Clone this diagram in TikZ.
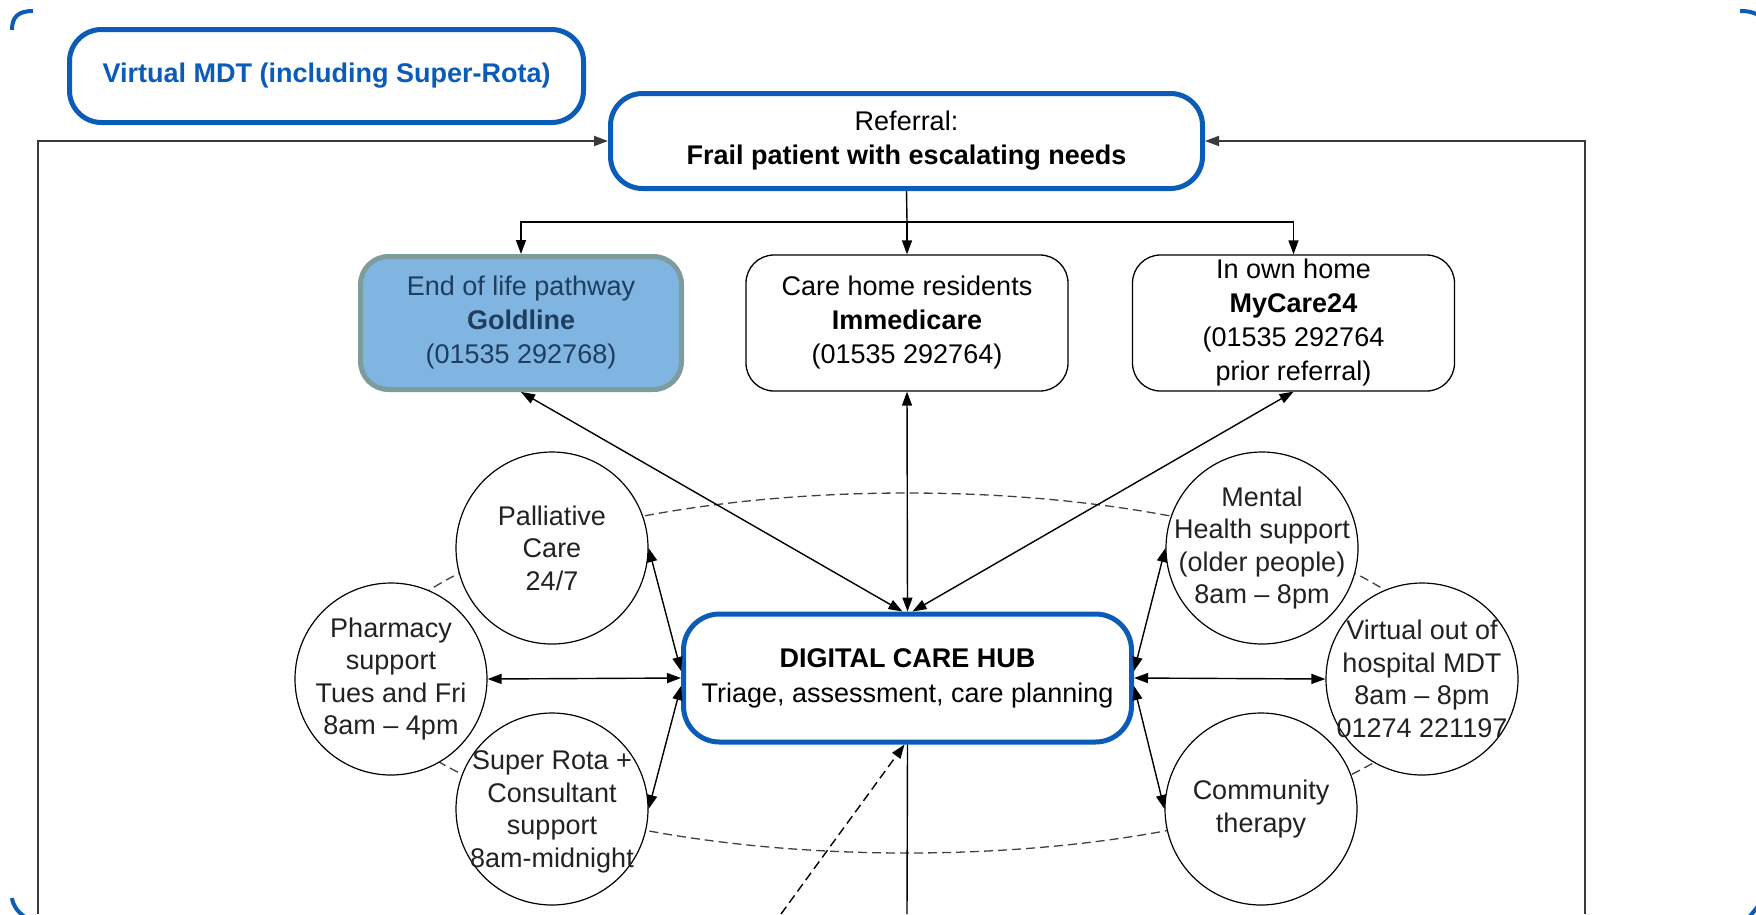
\documentclass[tikz,border=0pt]{standalone}
\usepackage{fontspec}
\setmainfont{Liberation Sans}
\usetikzlibrary{arrows.meta,calc}
\definecolor{hubblue}{HTML}{0B5CB8}
\definecolor{goldfill}{HTML}{7FB5E0}
\definecolor{goldedge}{HTML}{7E9C9C}
\definecolor{goldtext}{HTML}{1F3D5E}
\definecolor{linegray}{HTML}{3A3A3A}
\definecolor{txtdark}{HTML}{222222}
\begin{document}
\begin{tikzpicture}[x=1pt,y=-1pt,
  txt/.style={font=\fontsize{27}{34}\selectfont, align=center},
  bluebox/.style={draw=hubblue, line width=5pt, rounded corners=32pt, fill=white, txt, inner sep=0pt},
  whitebox/.style={draw=black, line width=1.3pt, rounded corners=28pt, fill=white, txt, minimum width=322pt, minimum height=136pt, inner sep=0pt},
  circ/.style={draw=black, line width=1.2pt, circle, minimum size=192pt, inner sep=0pt, fill=white},
  ctext/.style={text=txtdark, font=\fontsize{27}{32.5}\selectfont, align=center, inner sep=0pt},
  conn/.style={line width=1.4pt, black},
  tip/.style={-{Triangle[length=14pt,width=10pt]}},
  both/.style={{Triangle[length=14pt,width=10pt]}-{Triangle[length=14pt,width=10pt]}},
  outer/.style={line width=2pt, linegray},
  frame/.style={draw=hubblue, line width=4pt},
  longdash/.style={dash pattern=on 9pt off 5pt},
  ]
\useasboundingbox (0,0) rectangle (1756,914);

% outer frame corner fragments
\draw[frame] (12,30) .. controls (12,17) and (18,11) .. (33,11);
\draw[frame] (1740,11) .. controls (1748,11) and (1753,12) .. (1758,15);
\draw[frame] (12,898) .. controls (13,906) and (18,912) .. (25,917);
\draw[frame] (1748,918) .. controls (1752,914) and (1755,910) .. (1759,905);

% dashed ring
\draw[longdash, line width=1.3pt, black!75] (907,673) ellipse [x radius=538pt, y radius=180pt];

% nodes
\node[bluebox, minimum width=514pt, minimum height=93pt, text=hubblue, font={\fontsize{27}{34}\selectfont\bfseries}] (vmdt) at (326.5,76) {Virtual MDT (including Super-Rota)};
\node[bluebox, minimum width=592pt, minimum height=95pt] (ref) at (906.5,141) {Referral:\\\textbf{Frail patient with escalating needs}};

\node[whitebox, fill=goldfill, draw=goldedge, line width=5pt, minimum width=321pt, minimum height=133pt, text=goldtext] (gold) at (521,323) {End of life pathway\\\textbf{Goldline}\\(01535 292768)};
\node[whitebox] (imm) at (907,323) {Care home residents\\\textbf{Immedicare}\\(01535 292764)};
\node[whitebox] (myc) at (1293.5,323) {In own home\\\textbf{MyCare24}\\(01535 292764\\prior referral)};

\node[bluebox, minimum width=448pt, minimum height=128pt, rounded corners=36pt, font=\fontsize{27}{35}\selectfont] (hub) at (907.5,678) {\textbf{DIGITAL CARE HUB}\\Triage, assessment, care planning};

\node[circ] (pall) at (552,548) {};
\node[circ] (pharm) at (391,679) {};
\node[circ] (super) at (552,809) {};
\node[circ] (mental) at (1262,548) {};
\node[circ] (vohm) at (1422,679) {};
\node[circ] (comm) at (1261,809) {};
\node[ctext] (pall-t) at (pall) {Palliative\\Care\\24/7};
\node[ctext] (pharm-t) at (pharm) {Pharmacy\\support\\Tues and Fri\\8am – 4pm};
\node[ctext] (super-t) at ($(super)+(0,3)$) {Super Rota +\\Consultant\\support\\8am-midnight};
\node[ctext] (mental-t) at (mental) {Mental\\Health support\\(older people)\\8am – 8pm};
\node[ctext] (vohm-t) at (vohm) {Virtual out of\\hospital MDT\\8am – 8pm\\01274 221197};
\node[ctext] (comm-t) at (comm) {Community\\therapy};

% referral split
\coordinate (split) at (907,222);
\draw[conn] (ref.south) -- (split);
\draw[conn, tip] (split) -| (gold.north);
\draw[conn, tip] (split) -- (imm.north);
\draw[conn, tip] (split) -| (myc.north);

% outer return lines
\coordinate (bl) at (38,914);
\coordinate (br) at (1585,914);
\draw[outer, tip] (bl) |- (ref.west);
\draw[outer, tip] (br) |- (ref.east);

% hub to pathway boxes
\draw[conn, both] ($(hub.north)+(-5,0)$) -- (gold.south);
\draw[conn, both] (hub.north) -- (imm.south);
\draw[conn, both] ($(hub.north)+(5,0)$) -- (myc.south);

% hub to services
\draw[conn, both] (pall.east) -- ($(hub.west)+(0,-7)$);
\draw[conn, both] (pharm.east) -- (hub.west);
\draw[conn, both] (super.east) -- ($(hub.west)+(0,8)$);
\draw[conn, both] (mental.west) -- ($(hub.east)+(0,-7)$);
\draw[conn, both] (vohm.west) -- (hub.east);
\draw[conn, both] (comm.west) -- ($(hub.east)+(0,8)$);

% bottom connectors
\coordinate (bot) at (907,914);
\coordinate (dbot) at (781,914);
\draw[conn] (hub.south) -- (bot);
\draw[conn, longdash, tip] (dbot) -- ($(hub.south)+(-3,0)$);
\end{tikzpicture}
\end{document}
